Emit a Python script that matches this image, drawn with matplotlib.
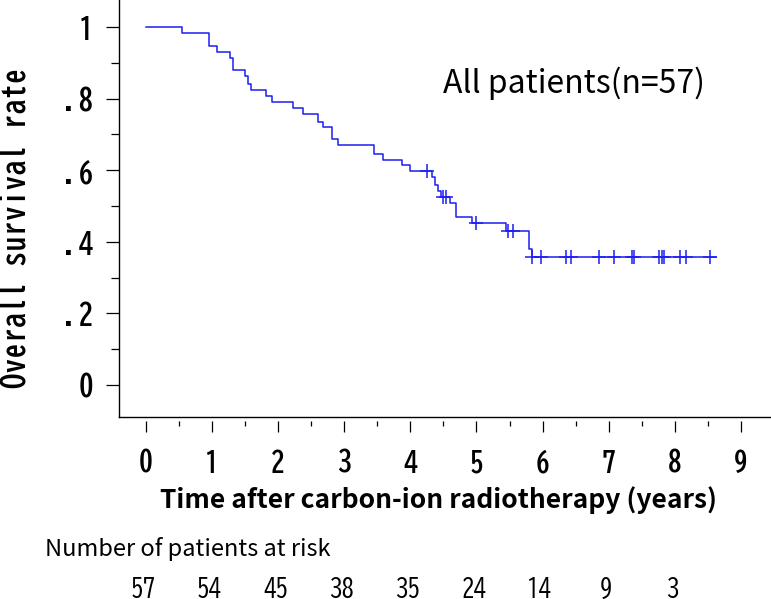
import matplotlib
matplotlib.use("Agg")
import matplotlib.pyplot as plt
from matplotlib.ticker import MultipleLocator, FixedLocator
import numpy as np

# Kaplan-Meier step points (time in years, survival after the drop)
step_times = [0, 0.54, 0.95, 1.08, 1.27, 1.31, 1.50, 1.54, 1.59, 1.82, 1.91,
              2.23, 2.37, 2.60, 2.68, 2.82, 2.91, 3.45, 3.59, 3.87, 4.00,
              4.33, 4.38, 4.42, 4.46, 4.60, 4.69, 4.93, 5.44, 5.80, 5.84, 8.63]
step_surv = [1.0, 0.984, 0.946, 0.929, 0.912, 0.879, 0.862, 0.841, 0.824, 0.807, 0.790,
             0.773, 0.757, 0.736, 0.720, 0.686, 0.671, 0.646, 0.629, 0.614, 0.598,
             0.581, 0.559, 0.542, 0.525, 0.508, 0.469, 0.452, 0.429, 0.380, 0.357, 0.357]

# censored observations
censor_times = [4.25, 4.50, 4.54, 5.00, 5.47, 5.56, 5.84, 5.98, 6.35, 6.43, 6.85,
                7.08, 7.36, 7.39, 7.76, 7.80, 7.84, 8.08, 8.17, 8.54]

x_ticks = [0, 1, 2, 3, 4, 5, 6, 7, 8, 9]
y_ticks = [0, 0.2, 0.4, 0.6, 0.8, 1.0]
y_ticklabels = ["0", ".2", ".4", ".6", ".8", "1"]

risk_times = [0, 1, 2, 3, 4, 5, 6, 7, 8]
at_risk = [57, 54, 45, 38, 35, 24, 14, 9, 3]

# narrow Japanese gothic for digits / y label; Noto for text with descenders
plt.rcParams["font.family"] = ["BIZ UDGothic", "DejaVu Sans"]
NOTO = ["Noto Sans CJK JP", "DejaVu Sans"]

fig = plt.figure(figsize=(7.71, 5.99), dpi=100)
ax = fig.add_axes([119 / 771, 1 - 417 / 599, 1 - 119 / 771, 417 / 599])

blue = "#1e1ef0"
ax.step(step_times, step_surv, where="post", color=blue, lw=1.1)

# survival at each censor time
st = np.array(step_times)
sv = np.array(step_surv)
cens_y = [sv[np.searchsorted(st, t, side="right") - 1] for t in censor_times]
ax.plot(censor_times, cens_y, linestyle="none", marker="+", markersize=9.5,
        markeredgewidth=1.1, color=blue)

ax.set_xlim(-0.408, 9.456)
ax.set_ylim(-0.0894, 1.0754)

ax.spines["top"].set_visible(False)
ax.spines["right"].set_visible(False)
ax.spines["left"].set_linewidth(1.0)
ax.spines["bottom"].set_position(("outward", 3))
ax.spines["bottom"].set_visible(False)
ax.plot([0, 1], [0, 0], transform=ax.transAxes, color="black", lw=1.0, clip_on=False)

ax.xaxis.set_major_locator(FixedLocator(x_ticks))
ax.xaxis.set_minor_locator(MultipleLocator(0.5))
ax.set_xticklabels([str(v) for v in x_ticks])
ax.yaxis.set_major_locator(FixedLocator(y_ticks))
ax.yaxis.set_minor_locator(MultipleLocator(0.1))
ax.set_yticklabels(y_ticklabels)

ax.tick_params(axis="x", which="major", direction="out", length=8, width=0.9,
               pad=12, labelsize=20)
ax.tick_params(axis="x", which="minor", direction="out", length=3.8, width=0.9)
ax.tick_params(axis="y", which="major", direction="out", length=9.4, width=0.9,
               pad=9, labelsize=21)
ax.tick_params(axis="y", which="minor", direction="out", length=6, width=0.9)
for lab in ax.get_xticklabels() + ax.get_yticklabels():
    lab.set_fontweight("bold")

fig.text(14 / 771, 1 - 228 / 599, "Overall survival rate", rotation=90,
         ha="center", va="center", fontsize=22, fontweight="bold")
fig.text(438 / 771, 1 - 500 / 599, "Time after carbon-ion radiotherapy (years)",
         ha="center", va="center", fontsize=19, fontweight="bold", family=NOTO)

ax.text((443 - 119) / 652, 0.80, "All patients(n=57)", transform=ax.transAxes,
        ha="left", va="center", fontsize=23, family=NOTO)

fig.text(45 / 771, 1 - 549 / 599, "Number of patients at risk",
         ha="left", va="center", fontsize=17, family=NOTO)
trans = matplotlib.transforms.blended_transform_factory(ax.transData, fig.transFigure)
for t, n in zip(risk_times, at_risk):
    ax.text(t - 0.04, 1 - 588 / 599, str(n), transform=trans, ha="center",
            va="center", fontsize=18, clip_on=False)

fig.savefig("out.png", dpi=100)
